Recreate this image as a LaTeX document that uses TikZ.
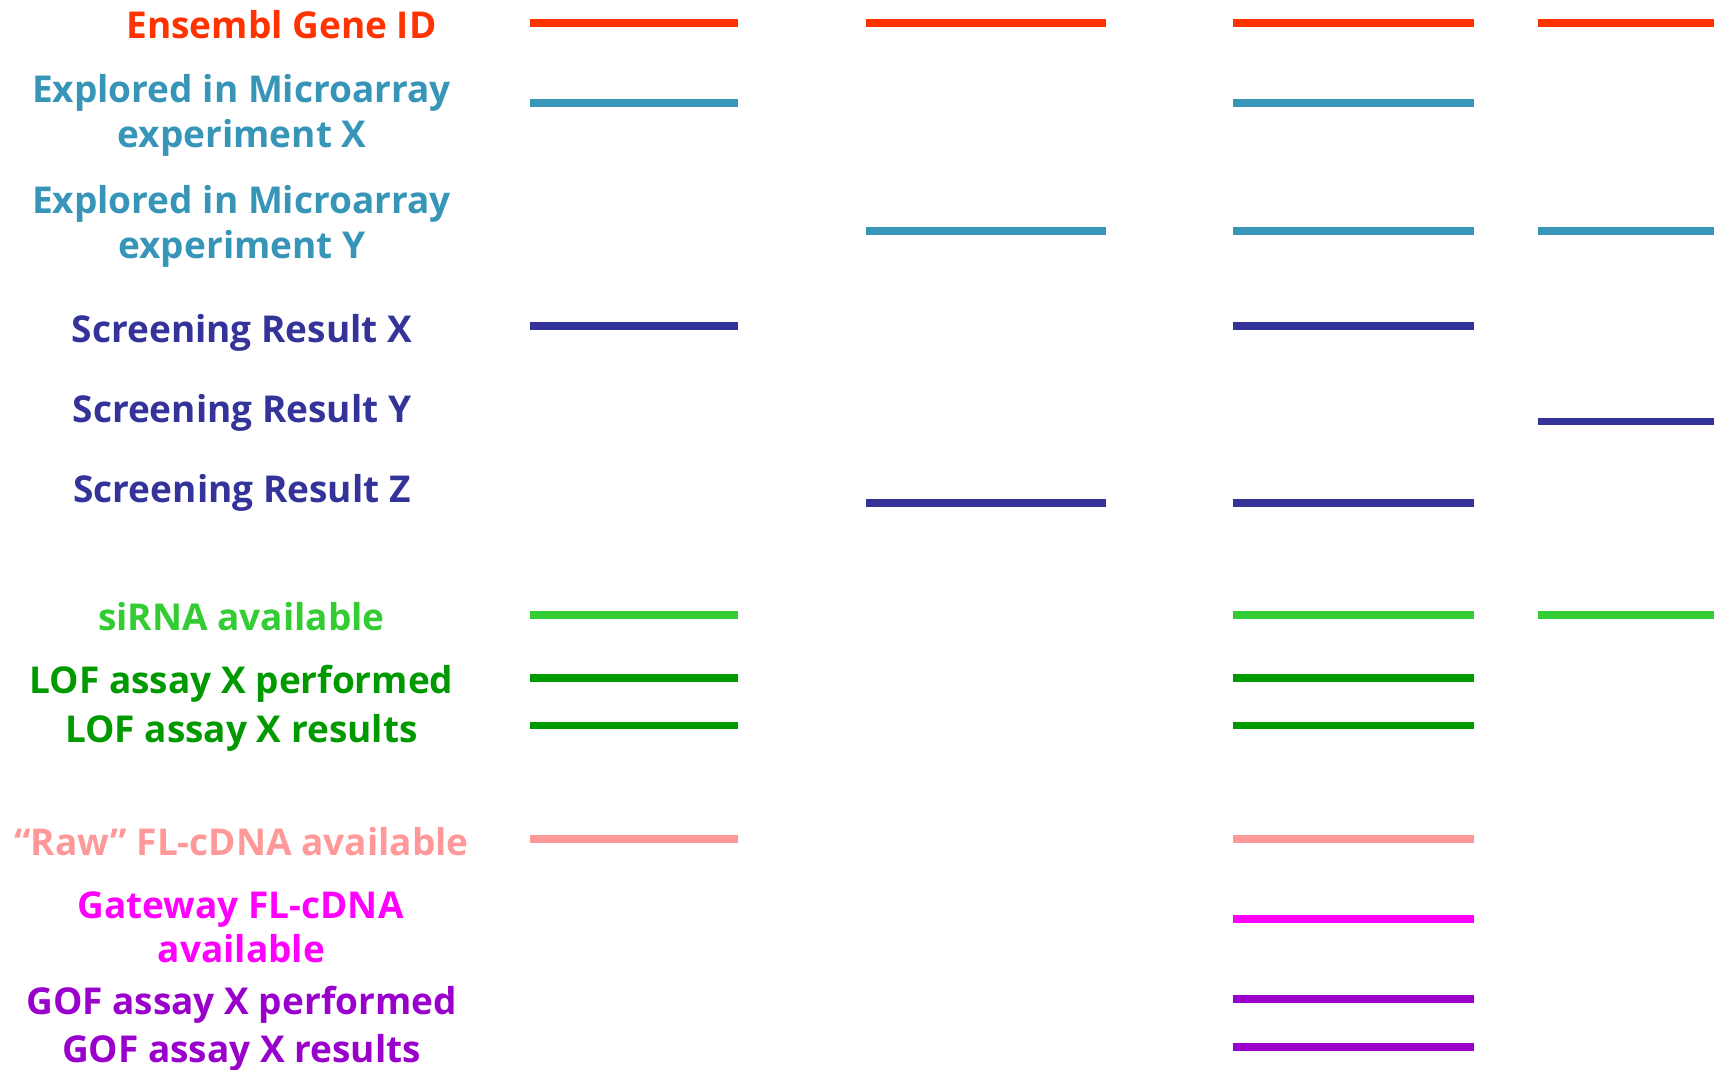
\documentclass[tikz,border=0pt]{standalone}
\usepackage{fontspec}
\setmainfont{Open Sans}
\definecolor{cRed}{HTML}{FF3300}
\definecolor{cTeal}{HTML}{3795B8}
\definecolor{cNavy}{HTML}{333399}
\definecolor{cLime}{HTML}{33CC33}
\definecolor{cGreen}{HTML}{009900}
\definecolor{cPink}{HTML}{FF9999}
\definecolor{cMagenta}{HTML}{FF00FF}
\definecolor{cPurple}{HTML}{9900CC}
\tikzset{
  lbl/.style={anchor=base, inner sep=0pt, font=\fontsize{37}{44}\selectfont\bfseries},
  track/.style={line width=7.7pt, line cap=butt},
}
\begin{document}
\begin{tikzpicture}[x=1pt,y=-1pt]
\useasboundingbox[fill=white] (0,0) rectangle (1721,1069);

% row labels
\node[lbl, text=cRed]     (ens)   at (281.5,38)  {Ensembl Gene ID};
\node[lbl, text=cTeal]    (mxa)   at (241.5,102) {Explored in Microarray};
\node[lbl, text=cTeal]    (mxb)   at (242,147)   {experiment X};
\node[lbl, text=cTeal]    (mya)   at (241.5,213) {Explored in Microarray};
\node[lbl, text=cTeal]    (myb)   at (242,258)   {experiment Y};
\node[lbl, text=cNavy]    (srx)   at (242,342)   {Screening Result X};
\node[lbl, text=cNavy]    (sry)   at (242,422)   {Screening Result Y};
\node[lbl, text=cNavy]    (srz)   at (242,502)   {Screening Result Z};
\node[lbl, text=cLime]    (sirna) at (241.5,630) {siRNA available};
\node[lbl, text=cGreen]   (lofp)  at (241.5,693) {LOF assay X performed};
\node[lbl, text=cGreen]   (lofr)  at (241.5,742) {LOF assay X results};
\node[lbl, text=cPink]    (raw)   at (241.5,855) {“Raw” FL-cDNA available};
\node[lbl, text=cMagenta] (gwa)   at (240.5,918) {Gateway FL-cDNA};
\node[lbl, text=cMagenta] (gwb)   at (241.5,962) {available};
\node[lbl, text=cPurple]  (gofp)  at (241.5,1014) {GOF assay X performed};
\node[lbl, text=cPurple]  (gofr)  at (241.5,1062) {GOF assay X results};

% tracks: columns A 530-738, B 866-1106, C 1233-1474, D 1538-1714
\foreach \y/\col/\cols in {
   22.8/cRed/{530/738,866/1106,1233/1474,1538/1714},
   103/cTeal/{530/738,1233/1474},
   231/cTeal/{866/1106,1233/1474,1538/1714},
   326/cNavy/{530/738,1233/1474},
   421.5/cNavy/{1538/1714},
   503/cNavy/{866/1106,1233/1474},
   615/cLime/{530/738,1233/1474,1538/1714},
   678/cGreen/{530/738,1233/1474},
   725.5/cGreen/{530/738,1233/1474},
   839/cPink/{530/738,1233/1474},
   919/cMagenta/{1233/1474},
   999/cPurple/{1233/1474},
   1047/cPurple/{1233/1474}}{
  \foreach \l/\r in \cols {
    \draw[track, \col] (\l,\y) -- (\r,\y);
  }
}
\end{tikzpicture}
\end{document}
